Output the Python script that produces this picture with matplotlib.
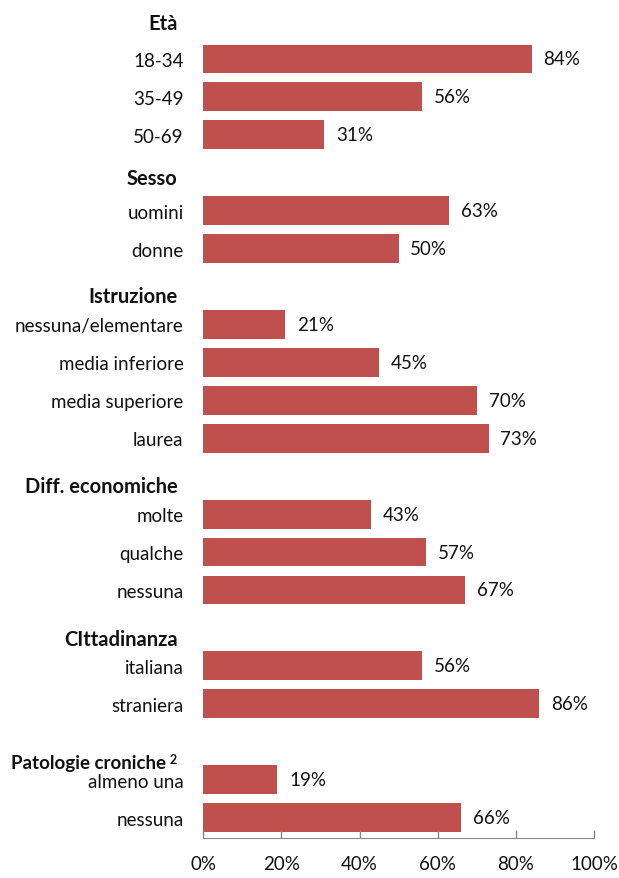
import matplotlib.pyplot as plt

plt.rcParams['font.family'] = ['Lato', 'DejaVu Sans']

# righe dall'alto verso il basso
labels = ['18-34', '35-49', '50-69',
          'uomini', 'donne',
          'nessuna/elementare', 'media inferiore', 'media superiore', 'laurea',
          'molte', 'qualche', 'nessuna',
          'italiana', 'straniera',
          'almeno una', 'nessuna']
values = [84, 56, 31,
          63, 50,
          21, 45, 70, 73,
          43, 57, 67,
          56, 86,
          19, 66]
rows = [0, 1, 2, 4, 5, 7, 8, 9, 10, 12, 13, 14, 16, 17, 19, 20]

groups = ['Età', 'Sesso', 'Istruzione', 'Diff. economiche', 'CIttadinanza', 'Patologie croniche']
group_rows = [-0.95, 3.15, 6.25, 11.25, 15.3, 18.55]

bar_col = '#C0504D'
fs = 13.5

fig = plt.figure(figsize=(6.19, 8.79), dpi=100)
ax = fig.add_axes([0.328, 0.045, 0.632, 0.955])

ax.barh(rows, values, height=0.76, color=bar_col)
for r, v in zip(rows, values):
    ax.text(v + 3.0, r, f'{v}%', va='center', ha='left', fontsize=fs, color='#111111')

ax.set_yticks(rows)
ax.set_yticklabels(labels, fontsize=fs, color='#111111')
ax.tick_params(axis='y', length=0, pad=14)

ax.set_xlim(0, 100)
ax.set_ylim(20.55, -1.58)
ax.set_xticks([0, 20, 40, 60, 80, 100])
ax.set_xticklabels(['0%', '20%', '40%', '60%', '80%', '100%'], fontsize=fs, color='#111111')
ax.tick_params(axis='x', direction='in', length=6, width=1, color='#888888', pad=12)

for s in ['top', 'right', 'left']:
    ax.spines[s].set_visible(False)
ax.spines['bottom'].set_color('#888888')

for g, r in zip(groups, group_rows):
    t = ax.text(-6.5, r, g, ha='right', va='center', fontsize=14.5,
                fontweight='bold', color='#111111')
    if g == 'Patologie croniche':
        t.set_fontsize(13.5)
        t.set_x(-9.5)
        ax.annotate('2', xy=(1, 1), xycoords=t, xytext=(3, 1),
                    textcoords='offset points', ha='left', va='top',
                    fontsize=9, fontweight='bold', color='#111111')

fig.savefig('out.png', dpi=100)
